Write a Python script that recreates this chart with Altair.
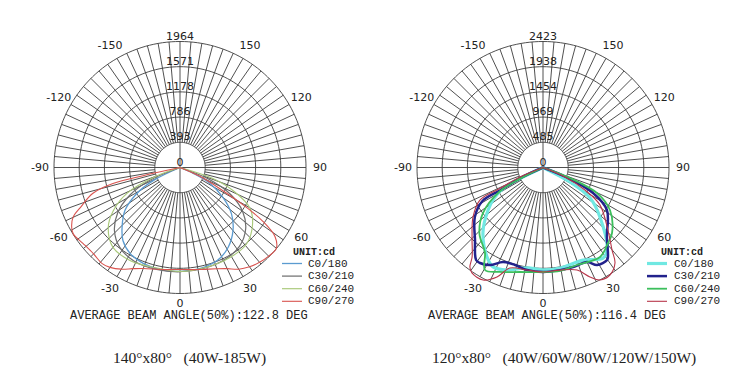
import altair as alt
import numpy as np
import pandas as pd

PLANES = ["C0/180", "C30/210", "C60/240", "C90/270"]

# ---------- left chart: (gamma deg, cd) ----------
L_MAX = 1964
L_RLABELS = ["0", "393", "786", "1178", "1571", "1964"]
L_C0 = [(-67, 0), (-64, 465), (-59, 785), (-52, 1090), (-44, 1300), (-38, 1445), (-30, 1550),
        (-21, 1600), (-11, 1620), (0, 1620), (11, 1605), (22, 1560), (31, 1455), (40, 1285),
        (48, 1080), (55, 820), (62, 530), (66, 225), (68, 0)]
L_C30 = [(-71, 0), (-67, 520), (-61, 900), (-54, 1200), (-46, 1420), (-37, 1560), (-26, 1625),
         (-13, 1630), (0, 1625), (13, 1615), (26, 1595), (37, 1540), (47, 1400), (55, 1190),
         (62, 890), (68, 480), (71, 0)]
L_C60 = [(-75, 0), (-70, 400), (-64, 920), (-57, 1240), (-50, 1460), (-40, 1625), (-28, 1645),
         (-15, 1610), (0, 1620), (15, 1610), (29, 1605), (41, 1580), (52, 1435), (60, 1255),
         (66.5, 900), (71.5, 540), (74, 0)]
L_C90 = [(-78, 0), (-77.5, 590), (-76.5, 1075), (-73.5, 1415), (-68, 1680), (-65, 1840),
         (-61, 1930), (-58, 1960), (-52, 1920), (-45, 1905), (-39, 1928), (-35, 1900),
         (-30, 1830), (-25, 1740), (-20, 1675), (-10, 1615), (0, 1590), (10, 1615), (20, 1680),
         (25, 1740), (30, 1830), (35, 1890), (40, 1930), (45, 1955), (50, 1960), (54, 1830),
         (57, 1540), (59, 1215), (62, 705), (66, 330), (69, 0)]
L_COLORS = ["#5b9bd0", "#6f6f6f", "#a9c97a", "#d9534f"]
L_WIDTHS = [1.3, 1.1, 1.3, 1.4]
L_BEAM = "AVERAGE BEAM ANGLE(50%):122.8 DEG"
L_CAPTION = "140°x80°\u00a0\u00a0\u00a0(40W-185W)"

# ---------- right chart ----------
R_MAX = 2423
R_RLABELS = ["0", "485", "969", "1454", "1938", "2423"]
R_C0 = [(-66, 0), (-62.8, 820), (-58.4, 1085), (-52.3, 1335), (-42.5, 1710), (-32, 2030),
        (-26.7, 2140), (-19.4, 2090), (-9, 1955), (0, 1970), (9.6, 1960), (23.4, 1940),
        (33.5, 2090), (37.8, 2010), (49, 1450), (57, 1080), (61.8, 590), (65, 0)]
R_C30 = [(-67, 0), (-65, 470), (-62, 920), (-61, 1330), (-54, 1620), (-43.2, 1910),
         (-35.9, 2195), (-33.4, 2200), (-28.5, 2135), (-22.9, 1975), (-16, 1950), (-8.9, 1995),
         (0, 2010), (9.4, 2000), (16.8, 2000), (25, 2005), (29, 2145), (34.7, 2165), (36, 2125),
         (42.6, 1815), (56.4, 1475), (63, 1080), (67.4, 500), (69, 0)]
R_C60 = [(-68, 0), (-64, 500), (-61, 950), (-52.8, 1450), (-44, 1760), (-34.2, 1985),
         (-29.5, 2265), (-22.4, 2173), (-12.4, 2058), (0, 2010), (9.3, 2015), (19.2, 1985),
         (32.5, 2040), (40.7, 1915), (46.5, 1830), (57.6, 1525), (64.7, 1150), (68.7, 557), (71, 0)]
R_C90 = [(-68, 0), (-67.6, 480), (-64, 935), (-62.7, 1365), (-54.7, 1650), (-45.6, 1910),
         (-38.4, 2195), (-36.3, 2375), (-34, 2445), (-28, 2450), (-22.8, 2285), (-18.2, 2035),
         (-8.9, 1995), (0, 2010), (9.4, 2000), (18.4, 2077), (23.2, 2290), (26.9, 2425),
         (31.9, 2435), (37, 2300), (39.9, 2070), (46, 1735), (56.7, 1310), (61.8, 915),
         (66.6, 460), (68, 0)]
R_COLORS = ["#70e8e2", "#22228c", "#3cbf5c", "#b8364a"]
R_WIDTHS = [3.2, 1.1, 1.3, 1.3]
R_BEAM = "AVERAGE BEAM ANGLE(50%):116.4 DEG"
R_CAPTION = "120°x80°\u00a0\u00a0\u00a0(40W/60W/80W/120W/150W)"

ANGLE_LABELS = ["0", "30", "60", "90", "120", "150", "-150", "-120", "-90", "-60", "-30"]
ANGLE_VALUES = [0, 30, 60, 90, 120, 150, -150, -120, -90, -60, -30]
UNIT = "UNIT:cd"

# ---------- layout (pixels) ----------
PX = 126.0          # pixels for outer ring
W, H = 358, 365
CX, CY = 172.0, 159.5
XDOM = [-CX / PX, (W - CX) / PX]
YDOM = [-(H - CY) / PX, CY / PX]
GRID = "#3c3c3c"
INK = "#222222"


def P(px):
    return px / PX


def polar(rfield, afield, xname, yname):
    return {xname: f"{rfield}*sin({afield}*PI/180)", yname: f"-{rfield}*cos({afield}*PI/180)"}


def panel(curves, colors, widths, cdmax, rlabels, beam, caption, leg):
    xs = alt.Scale(domain=XDOM, nice=False, zero=False)
    ys = alt.Scale(domain=YDOM, nice=False, zero=False)

    def X(f):
        return alt.X(f, type="quantitative", scale=xs, axis=None)

    def Y(f):
        return alt.Y(f, type="quantitative", scale=ys, axis=None)

    def XD(v):
        return alt.X(datum=v, type="quantitative", scale=xs, axis=None)

    def YD(v):
        return alt.Y(datum=v, type="quantitative", scale=ys, axis=None)

    cscale = alt.Scale(domain=PLANES, range=colors)
    wscale = alt.Scale(domain=PLANES, range=widths)

    # rings
    rows = []
    for k in range(1, 6):
        for t in range(0, 361, 2):
            rows.append({"ring": k, "t": t, "r": k / 5})
    rings = alt.Chart(pd.DataFrame(rows)).transform_calculate(
        **polar("datum.r", "datum.t", "x", "y")
    ).mark_line(stroke=GRID, strokeWidth=0.9).encode(
        x=X("x"), y=Y("y"), detail="ring:N", order="t:Q")

    # spokes every 5 degrees (the four axes run to the centre)
    sp = pd.DataFrame({"a": list(range(0, 360, 5))})
    sp["r0"] = np.where(sp["a"] % 90 == 0, 0.0, 0.2)
    spokes = alt.Chart(sp).transform_calculate(
        **polar("datum.r0", "datum.a", "x", "y"),
        **polar("1", "datum.a", "x2", "y2")
    ).mark_rule(stroke=GRID, strokeWidth=0.9).encode(
        x=X("x"), y=Y("y"), x2="x2:Q", y2="y2:Q")

    # photometric curves
    crow = []
    for p, pts in zip(PLANES, curves):
        for i, (g, c) in enumerate(pts):
            crow.append({"plane": p, "g": g, "cd": c, "i": i})
    lines = alt.Chart(pd.DataFrame(crow)).transform_calculate(
        r=f"datum.cd/{cdmax}"
    ).transform_calculate(
        **polar("datum.r", "datum.g", "x", "y")
    ).mark_line(interpolate="catmull-rom").encode(
        x=X("x"), y=Y("y"), order="i:Q",
        color=alt.Color("plane:N", scale=cscale, legend=None),
        strokeWidth=alt.StrokeWidth("plane:N", scale=wscale, legend=None))

    # angle labels (bottom one a little closer in)
    al = pd.DataFrame({"lab": ANGLE_LABELS, "a": ANGLE_VALUES})
    alabels = alt.Chart(al).transform_calculate(
        rr=f"datum.a == 0 ? {P(136)} : {P(140)}"
    ).transform_calculate(
        **polar("datum.rr", "datum.a", "x", "y")
    ).mark_text(font="DejaVu Sans", fontSize=11, fill=INK, baseline="middle").encode(
        x=X("x"), y=Y("y"), text="lab:N")

    # ring value labels on the top spoke
    rl = pd.DataFrame({"lab": rlabels, "k": list(range(6))})
    rlab = alt.Chart(rl).transform_calculate(
        y="datum.k/5", x="0"
    ).mark_text(font="DejaVu Sans", fontSize=11, fill=INK, baseline="middle", dy=-5).encode(
        x=X("x"), y=Y("y"), text="lab:N")

    # legend
    lx0, lx1, ltx, lux = leg
    lg = pd.DataFrame({"plane": PLANES, "idx": list(range(4))})
    lbase = alt.Chart(lg).transform_calculate(
        ly=f"{-P(96)} - datum.idx*{P(12.6)}", lx0=str(P(lx0)), lx1=str(P(lx1)), ltx=str(P(ltx)))
    lrules = lbase.mark_rule().encode(
        x=X("lx0"), x2="lx1:Q", y=Y("ly"),
        color=alt.Color("plane:N", scale=cscale, legend=None),
        strokeWidth=alt.StrokeWidth("plane:N", scale=wscale, legend=None))
    ltext = lbase.mark_text(align="left", baseline="middle", font="Liberation Mono",
                            fontSize=11, fill=INK).encode(
        x=X("ltx"), y=Y("ly"), text="plane:N")
    unit = alt.Chart(pd.DataFrame({"t": [UNIT]})).mark_text(
        align="left", baseline="middle", font="Liberation Mono", fontSize=10,
        fontWeight="bold", fill=INK).encode(x=XD(P(lux)), y=YD(-P(84)), text="t:N")

    btext = alt.Chart(pd.DataFrame({"t": [beam[0]]})).mark_text(
        align="left", baseline="middle", font="Liberation Mono", fontSize=12, fill=INK).encode(
        x=XD(P(beam[1])), y=YD(-P(147)), text="t:N")
    ctext = alt.Chart(pd.DataFrame({"t": [caption[0]]})).mark_text(
        align="left", baseline="middle", font="Liberation Serif", fontSize=15.5, fill=INK).encode(
        x=XD(P(caption[1])), y=YD(-P(190)), text="t:N")

    return alt.layer(rings, spokes, lines, lrules, ltext, unit, btext, ctext, alabels, rlab
                     ).properties(width=W, height=H)


left = panel([L_C0, L_C30, L_C60, L_C90], L_COLORS, L_WIDTHS, L_MAX, L_RLABELS,
             (L_BEAM, -110), (L_CAPTION, -67), (102, 122, 128, 113))
right = panel([R_C0, R_C30, R_C60, R_C90], R_COLORS, R_WIDTHS, R_MAX, R_RLABELS,
              (R_BEAM, -115), (R_CAPTION, -111), (104, 124, 131, 118))

chart = alt.hconcat(left, right, spacing=5).resolve_scale(
    color="independent", strokeWidth="independent", x="independent", y="independent"
).properties(padding=0, background="white").configure_view(stroke=None)

chart.save("out.html", embed_options={"renderer": "svg", "actions": False})
